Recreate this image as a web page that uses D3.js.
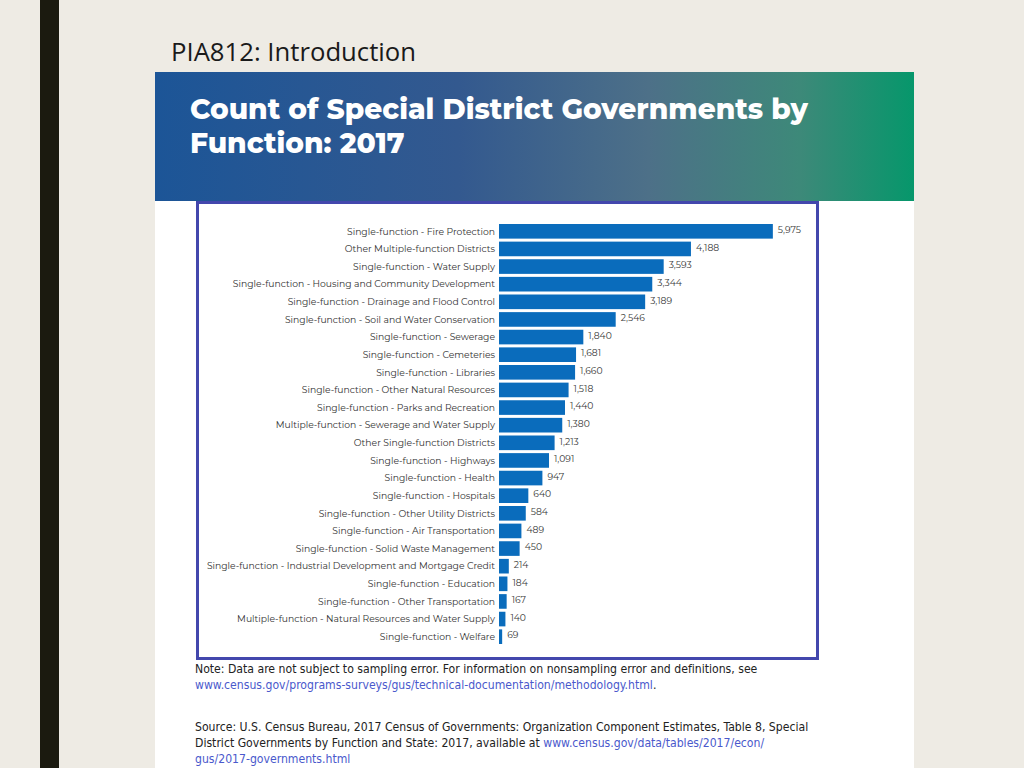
<html>
<head>
  <style>
  body {
    margin: 0;
    background-color: #eeebe4;
  }
  svg {
    display: block;
    font-variant-ligatures: none;
  }
  </style>
</head>
<body>
  <div id="chart"></div>

  <script src="https://d3js.org/d3.v7.min.js"></script>
  <script>

  'use strict';

  var categories = [
    'Single-function - Fire Protection',
    'Other Multiple-function Districts',
    'Single-function - Water Supply',
    'Single-function - Housing and Community Development',
    'Single-function - Drainage and Flood Control',
    'Single-function - Soil and Water Conservation',
    'Single-function - Sewerage',
    'Single-function - Cemeteries',
    'Single-function - Libraries',
    'Single-function - Other Natural Resources',
    'Single-function - Parks and Recreation',
    'Multiple-function - Sewerage and Water Supply',
    'Other Single-function Districts',
    'Single-function - Highways',
    'Single-function - Health',
    'Single-function - Hospitals',
    'Single-function - Other Utility Districts',
    'Single-function - Air Transportation',
    'Single-function - Solid Waste Management',
    'Single-function - Industrial Development and Mortgage Credit',
    'Single-function - Education',
    'Single-function - Other Transportation',
    'Multiple-function - Natural Resources and Water Supply',
    'Single-function - Welfare'
  ];

  var counts = [5975, 4188, 3593, 3344, 3189, 2546, 1840, 1681, 1660, 1518,
                1440, 1380, 1213, 1091, 947, 640, 584, 489, 450, 214,
                184, 167, 140, 69];

  var width = 1024,
      height = 768;

  var svg = d3.select('#chart').append('svg')
              .attr('width', width)
              .attr('height', height);

  // scale a text's font size so it spans a target width
  function fit(sel, target) {
    var node = sel.node();
    var size = parseFloat(sel.attr('font-size'));
    var w = node.getComputedTextLength();
    if (w > 0) sel.attr('font-size', (size * target / w).toFixed(2));
    return sel;
  }

  // slide frame
  svg.append('rect').attr('width', width).attr('height', height).attr('fill', '#eeebe4');
  svg.append('rect').attr('x', 40).attr('y', 0).attr('width', 19).attr('height', height)
     .attr('fill', '#1b1a0f');

  fit(svg.append('text')
     .attr('x', 171).attr('y', 61)
     .attr('font-family', '"Open Sans", Lato, sans-serif')
     .attr('font-size', 24)
     .attr('fill', '#1a1a1a')
     .text('PIA812: Introduction'), 245);

  // panel
  svg.append('rect').attr('x', 155).attr('y', 72).attr('width', 759).attr('height', 696)
     .attr('fill', '#ffffff');

  var grad = svg.append('defs').append('linearGradient')
                .attr('id', 'hdr').attr('x1', '0%').attr('x2', '100%');
  [[0, '#1c5597'], [0.4, '#33598f'], [0.65, '#4d7088'], [0.85, '#3d8979'], [1, '#06976b']]
    .forEach(function (s) {
      grad.append('stop').attr('offset', s[0]).attr('stop-color', s[1]);
    });

  svg.append('rect').attr('x', 155).attr('y', 72).attr('width', 759).attr('height', 129)
     .attr('fill', 'url(#hdr)');

  var hdrFont = 'Montserrat, "Open Sans", "DejaVu Sans", sans-serif';
  var h1 = svg.append('text')
     .attr('x', 190).attr('y', 119)
     .attr('font-family', hdrFont).attr('font-weight', 800)
     .attr('font-size', 27).attr('fill', '#ffffff')
     .text('Count of Special District Governments by');
  fit(h1, 618);
  svg.append('text')
     .attr('x', 190).attr('y', 153)
     .attr('font-family', hdrFont).attr('font-weight', 800)
     .attr('font-size', h1.attr('font-size')).attr('fill', '#ffffff')
     .text('Function: 2017');

  // chart box
  svg.append('rect').attr('x', 197.5).attr('y', 202.5).attr('width', 620).attr('height', 456)
     .attr('fill', '#ffffff').attr('stroke', '#4347ad').attr('stroke-width', 3);

  var x = d3.scaleLinear().domain([0, 6000]).range([499, 774]);
  var y = d3.scaleBand().domain(categories).range([222.5, 645.5])
            .paddingInner(0.17).paddingOuter(0.085);

  var chart = svg.append('g');
  var lblFont = 'Montserrat, "Open Sans", sans-serif';

  chart.selectAll('rect.bar').data(categories).enter().append('rect')
       .attr('class', 'bar')
       .attr('x', x(0))
       .attr('y', function (d) { return y(d); })
       .attr('width', function (d, i) { return x(counts[i]) - x(0); })
       .attr('height', y.bandwidth())
       .attr('fill', '#0a6cbc');

  var cats = chart.selectAll('text.cat').data(categories).enter().append('text')
       .attr('class', 'cat')
       .attr('x', 495)
       .attr('y', function (d) { return y(d) + y.bandwidth() / 2; })
       .attr('dy', '0.35em')
       .attr('text-anchor', 'end')
       .attr('font-family', lblFont).attr('font-size', 9)
       .attr('fill', '#333333')
       .text(function (d) { return d; });

  // size labels so the first one spans the reference width
  var first = d3.select(cats.nodes()[0]);
  fit(first, 148);
  var lblSize = first.attr('font-size');
  cats.attr('font-size', lblSize);

  chart.selectAll('text.val').data(counts).enter().append('text')
       .attr('class', 'val')
       .attr('x', function (d) { return x(d) + 5; })
       .attr('y', function (d, i) { return y(categories[i]) + y.bandwidth() / 2 - 1.5; })
       .attr('dy', '0.35em')
       .attr('font-family', lblFont).attr('font-size', lblSize)
       .attr('fill', '#3a3a3a')
       .text(function (d) { return d3.format(',')(d); });

  // notes
  var noteFont = '"Liberation Sans Narrow", "DejaVu Sans Condensed", "Open Sans", sans-serif';
  var notes = [
    { y: 673, w: 563, parts: [['Note: Data are not subject to sampling error. For information on nonsampling error and definitions, see', '#222222']] },
    { y: 689, w: 467, parts: [['www.census.gov/programs-surveys/gus/technical-documentation/methodology.html', '#4a59cc'], ['.', '#222222']] },
    { y: 731, w: 603, parts: [['Source: U.S. Census Bureau, 2017 Census of Governments: Organization Component Estimates, Table 8, Special', '#222222']] },
    { y: 747, w: 448, parts: [['District Governments by Function and State: 2017, available at ', '#222222'], ['www.census.gov/data/tables/2017/econ/', '#4a59cc']] },
    { y: 763, w: 120, parts: [['gus/2017-governments.html', '#4a59cc']] }
  ];

  var noteSize = null;
  notes.forEach(function (n, k) {
    var t = svg.append('text')
               .attr('x', 195).attr('y', n.y)
               .attr('font-family', noteFont)
               .attr('font-size', noteSize || 12);
    n.parts.forEach(function (p) {
      t.append('tspan').attr('fill', p[1]).text(p[0]);
    });
    if (k === 0) {
      fit(t, n.w);
      noteSize = t.attr('font-size');
    }
  });

  </script>
</body>
</html>
